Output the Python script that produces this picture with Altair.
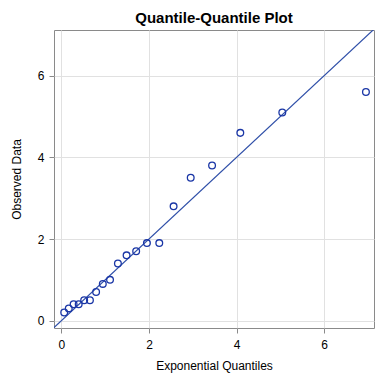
import altair as alt
import pandas as pd

exp_quantiles = [0.063, 0.167, 0.278, 0.394, 0.519, 0.651, 0.792, 0.945, 1.110, 1.290,
                 1.488, 1.707, 1.953, 2.235, 2.562, 2.953, 3.441, 4.086, 5.045, 6.956]
observed = [0.2, 0.3, 0.4, 0.4, 0.5, 0.5, 0.7, 0.9, 1.0, 1.4,
            1.6, 1.7, 1.9, 1.9, 2.8, 3.5, 3.8, 4.6, 5.1, 5.6]

# Reference line y = x
line_x = [-0.5, 7.5]
line_y = [-0.5, 7.5]

xdom = [-0.17, 7.14]
ydom = [-0.18, 7.12]
ticks = [0, 2, 4, 6]

pts = pd.DataFrame({"x": exp_quantiles, "y": observed})
ln = pd.DataFrame({"x": line_x, "y": line_y})

font = "Liberation Sans"

xscale = alt.Scale(domain=xdom, nice=False, zero=False)
yscale = alt.Scale(domain=ydom, nice=False, zero=False)

xaxis = alt.Axis(title="Exponential Quantiles", values=ticks, format="d",
                 grid=True, gridColor="#e1e1e1", domain=False,
                 tickColor="#8a8a8a", tickSize=5, labelPadding=6,
                 labelFontSize=12, labelColor="#000000", labelFont=font,
                 titleFont=font, titleFontSize=12, titleFontWeight="normal",
                 titleColor="#000000", titlePadding=10)
yaxis = alt.Axis(title="Observed Data", values=ticks, format="d",
                 grid=True, gridColor="#e1e1e1", domain=False,
                 tickColor="#8a8a8a", tickSize=5, labelPadding=5,
                 labelFontSize=12, labelColor="#000000", labelFont=font,
                 titleFont=font, titleFontSize=12, titleFontWeight="normal",
                 titleColor="#000000", titlePadding=14)

line = alt.Chart(ln).mark_line(color="#2f4fa8", strokeWidth=1.2, clip=True).encode(
    x=alt.X("x:Q", scale=xscale, axis=xaxis),
    y=alt.Y("y:Q", scale=yscale, axis=yaxis),
)

points = alt.Chart(pts).mark_point(shape="circle", filled=False, size=45,
                                   color="#1a36a6", strokeWidth=1.3, opacity=1).encode(
    x=alt.X("x:Q", scale=xscale),
    y=alt.Y("y:Q", scale=yscale),
)

chart = alt.layer(line, points).properties(
    width=320, height=298,
    autosize=alt.AutoSizeParams(type="none"),
    padding={"left": 46, "top": 22, "right": 2, "bottom": 48},
    title=alt.Title("Quantile-Quantile Plot", font=font, fontSize=15,
                    fontWeight="bold", color="#000000", offset=4, anchor="middle"),
).configure_view(stroke="#8a8a8a", strokeWidth=1)

chart.save("out.html", embed_options={"renderer": "svg", "actions": False})
